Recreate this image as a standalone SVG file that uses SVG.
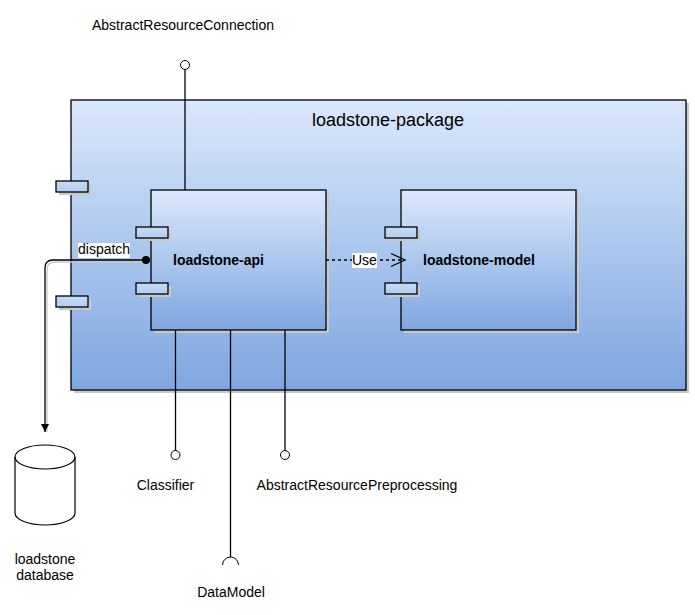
<svg xmlns="http://www.w3.org/2000/svg" width="695" height="615" viewBox="0 0 695 615">
<style>
text{font-family:"Liberation Sans",Arial,sans-serif;font-size:14px;fill:#000}
.b{font-weight:bold}
.c{text-anchor:middle}
.ln{stroke:#000;stroke-width:1.3;fill:none}
.box{stroke:#000;stroke-width:1.3}
.sh{fill:#c8c8c8}
.port{fill:url(#gp);stroke:#000;stroke-width:1.3}
</style>
<defs>
<linearGradient id="g" x1="0" y1="0" x2="0" y2="1">
<stop offset="0" stop-color="#dae8fc"/>
<stop offset="1" stop-color="#7ea6e0"/>
</linearGradient>
<linearGradient id="gp" x1="0" y1="0" x2="0" y2="1">
<stop offset="0" stop-color="#c6daf5"/>
<stop offset="1" stop-color="#b4cdf0"/>
</linearGradient>
<marker id="fa" markerWidth="10" markerHeight="10" refX="8" refY="4" orient="auto" markerUnits="userSpaceOnUse">
<path d="M0,0 L8,4 L0,8 Z" fill="#000"/>
</marker>
</defs>

<g id="loadstone-package">
<rect class="sh" x="74" y="103" width="615" height="290"/>
<rect class="box" x="71" y="100" width="615" height="290" fill="url(#g)"/>
<text class="c" x="388" y="126" style="font-size:18px">loadstone-package</text>
<rect class="sh" x="59" y="184" width="32" height="11"/>
<rect class="port" x="56" y="181" width="32" height="11"/>
<rect class="sh" x="59" y="299" width="32" height="11"/>
<rect class="port" x="56" y="296" width="32" height="11"/>
</g>

<g id="loadstone-api">
<rect class="sh" x="154" y="193" width="175" height="140"/>
<rect class="box" x="151" y="190" width="175" height="140" fill="url(#g)"/>
<rect class="sh" x="139" y="230" width="32" height="11"/>
<rect class="port" x="136" y="227" width="32" height="11"/>
<rect class="sh" x="139" y="286" width="32" height="11"/>
<rect class="port" x="136" y="283" width="32" height="11"/>
<text class="b" x="173" y="265">loadstone-api</text>
</g>

<g id="loadstone-model">
<rect class="sh" x="404" y="193" width="175" height="140"/>
<rect class="box" x="401" y="190" width="175" height="140" fill="url(#g)"/>
<rect class="sh" x="388" y="230" width="32" height="11"/>
<rect class="port" x="385" y="227" width="32" height="11"/>
<rect class="sh" x="388" y="286" width="32" height="11"/>
<rect class="port" x="385" y="283" width="32" height="11"/>
<text class="b" x="423" y="265">loadstone-model</text>
</g>

<g id="loadstone-database">
<path d="M15,457 A30,12 0 0 1 75,457 V513 A30,12 0 0 1 15,513 Z" fill="#fff" stroke="#000" stroke-width="1.2"/>
<path d="M15,457 A30,12 0 0 0 75,457" fill="none" stroke="#000" stroke-width="1.2"/>
<text class="c" x="45" y="564">loadstone</text>
<text class="c" x="45" y="580">database</text>
</g>

<g id="interfaces">
<circle cx="185" cy="65" r="4.5" fill="#fff" stroke="#000" stroke-width="1"/>
<text class="c" x="183" y="30">AbstractResourceConnection</text>
<circle cx="175.5" cy="455" r="4.5" fill="#fff" stroke="#000" stroke-width="1"/>
<text class="c" x="165.5" y="490">Classifier</text>
<circle cx="285" cy="455" r="4.5" fill="#fff" stroke="#000" stroke-width="1"/>
<text class="c" x="357" y="490">AbstractResourcePreprocessing</text>
<path d="M222.5,565 A8,8 0 0 1 238.5,565" fill="none" stroke="#000" stroke-width="1"/>
<text class="c" x="231" y="597">DataModel</text>
</g>

<g id="connectors">
<line class="ln" x1="185" y1="69.5" x2="185" y2="190"/>
<line class="ln" x1="175.5" y1="330" x2="175.5" y2="450.5"/>
<line class="ln" x1="285" y1="330" x2="285" y2="450.5"/>
<line class="ln" x1="230.5" y1="330" x2="230.5" y2="557"/>
<path d="M146,262 H55 Q47,262 47,270 V432" fill="none" stroke="#c8c8c8" stroke-width="1.3"/>
<path class="ln" d="M146,260 H53 Q45,260 45,268 V432" marker-end="url(#fa)"/>
<circle cx="146" cy="260" r="4" fill="#000"/>
<rect x="78" y="243" width="52" height="15" fill="#fff"/>
<text x="78" y="254">dispatch</text>
<line class="ln" x1="326" y1="260" x2="404" y2="260" stroke-dasharray="3,3"/>
<polyline class="ln" points="391,253.5 405,260 391,266.5" stroke-width="1"/>
<rect x="352" y="253" width="25" height="15" fill="#fff"/>
<text x="352" y="265">Use</text>
</g>
</svg>
